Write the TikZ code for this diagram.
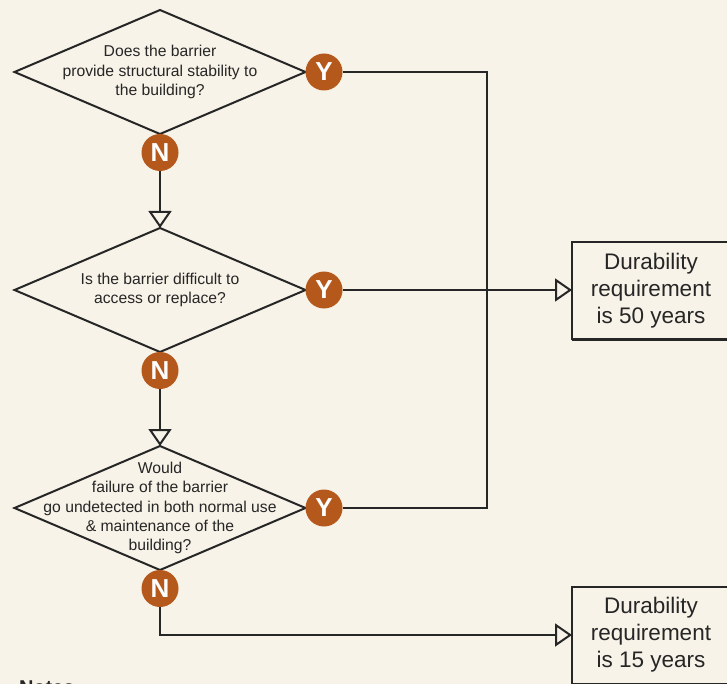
\documentclass[tikz,border=0pt]{standalone}
\usepackage{fontspec}
\setmainfont{Liberation Sans}
\usetikzlibrary{shapes.geometric,arrows.meta,positioning}
\definecolor{cream}{HTML}{F8F3E8}
\definecolor{rust}{HTML}{B5581B}
\definecolor{ink}{HTML}{262626}
\begin{document}
\begin{tikzpicture}[
                            x=1pt, y=-1pt,
                            node distance=218pt,
                            line width=2pt,
                            >={Triangle[open,width=23pt,length=17pt]},
                            decision/.style={diamond, draw=ink, minimum width=291pt, minimum height=124pt, inner sep=0pt, outer sep=0pt},
                            qtext/.style={text=ink, align=center, font=\fontsize{15.7}{19.3}\selectfont},
                            yesno/.style={circle, fill=rust, text=white, minimum size=37pt, inner sep=0pt, outer sep=0pt, font=\bfseries\fontsize{26}{26}\selectfont},
                            result/.style={rectangle, draw=ink, minimum width=158pt, minimum height=97pt, outer sep=0pt, align=center, text=ink, font=\fontsize{22.5}{27}\selectfont},
                            flow/.style={draw=ink}
                        ]
                        \useasboundingbox (0,0) rectangle (727,684);
                        \clip (0,0) rectangle (727,684);
                        \fill[cream] (0,0) rectangle (727,684);

                        % Blocks
                        \node [decision] (q1) at (160,72) {};
                        \node [qtext] (q1text) at (q1) {Does the barrier\\provide structural stability to\\the building?};
                        \node [decision, below of=q1] (q2) {};
                        \node [qtext] (q2text) at (q2) {Is the barrier difficult to\\access or replace?};
                        \node [decision, below of=q2] (q3) {};
                        \node [qtext] (q3text) at (q3) {Would\\failure of the barrier\\go undetected in both normal use\\\& maintenance of the\\building?};

                        \node [yesno, right=0pt of q1.east] (y1) {Y};
                        \node [yesno, right=0pt of q2.east] (y2) {Y};
                        \node [yesno, right=0pt of q3.east] (y3) {Y};
                        \node [yesno, below=0pt of q1.south] (n1) {N};
                        \node [yesno, below=0pt of q2.south] (n2) {N};
                        \node [yesno, below=0pt of q3.south] (n3) {N};

                        \node [result] (fifty) at (651,290.5) {Durability\\requirement\\is 50 years};
                        \node [result] (fifteen) at (651,635) {Durability\\requirement\\is 15 years};
                        \draw [ink, line width=3pt] (fifty.south west) -- (fifty.south east);

                        \coordinate (bus) at (487,0);
                        \node [anchor=north west, inner sep=0pt, text=ink, font=\bfseries\fontsize{20}{20}\selectfont] (notes) at (18,680) {Notes};

                        % Connections
                        \draw [flow,->] (n1) -- (q2.north);
                        \draw [flow,->] (n2) -- (q3.north);
                        \draw [flow] (y1.east) -| (bus |- y3.east) -- (y3.east);
                        \draw [flow,->] (y2.east) -- (y2.east -| fifty.west);
                        \draw [flow,->] (n3.south) |- (fifteen.west);
                    \end{tikzpicture}
\end{document}
